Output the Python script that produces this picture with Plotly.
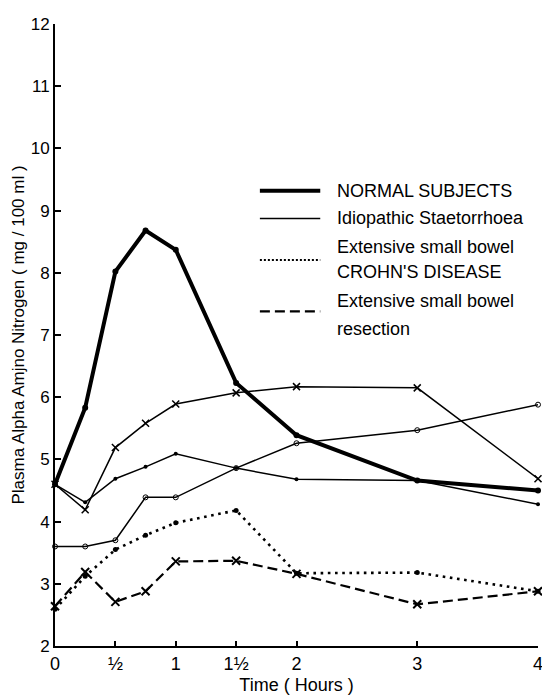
import plotly.graph_objects as go

# ---- data ----
time_h = [0, 0.25, 0.5, 0.75, 1, 1.5, 2, 3, 4]
normal = [4.6, 5.83, 8.02, 8.68, 8.37, 6.23, 5.39, 4.66, 4.5]
idio_a = [4.6, 4.19, 5.19, 5.58, 5.89, 6.07, 6.17, 6.15, 4.69]
idio_b = [4.6, 4.31, 4.69, 4.88, 5.09, 4.86, 4.68, 4.66, 4.28]
idio_c = [3.6, 3.6, 3.7, 4.39, 4.39, 4.86, 5.26, 5.47, 5.88]
crohn = [2.59, 3.12, 3.55, 3.78, 3.98, 4.18, 3.17, 3.18, 2.88]
resection = [2.64, 3.19, 2.71, 2.88, 3.36, 3.37, 3.16, 2.67, 2.88]

x_tickvals = [0, 0.5, 1, 1.5, 2, 3, 4]
x_ticktext = ["0", "½", "1", "1½", "2", "3", "4"]
y_tickvals = [2, 3, 4, 5, 6, 7, 8, 9, 10, 11, 12]

legend_labels = ["NORMAL SUBJECTS", "Idiopathic Staetorrhoea",
                 "Extensive small bowel", "CROHN'S DISEASE",
                 "Extensive small bowel", "resection"]

FONT = "Liberation Sans"
BLACK = "black"

# the page body has an 8px margin, so the figure is 542x691 and
# margins are measured from (8, 8) of the window
W, H = 542, 691
ML, MR, MT, MB = 47, 7, 8, 53

fig = go.Figure()

def add(y, width, dash, symbol, msize, mline=0, name=""):
    fig.add_trace(go.Scatter(
        x=time_h, y=y, mode="lines+markers", name=name,
        line=dict(color=BLACK, width=width, dash=dash),
        marker=dict(symbol=symbol, size=msize, color=BLACK,
                    line=dict(color=BLACK, width=mline)),
        cliponaxis=False, showlegend=False))

add(idio_a, 1.5, "solid", "x-thin", 7, 1.5, "Idiopathic Staetorrhoea")
add(idio_b, 1.5, "solid", "circle", 4, 0, "Idiopathic Staetorrhoea")
add(idio_c, 1.5, "solid", "circle-open", 5, 1, "Idiopathic Staetorrhoea")
add(crohn, 2.6, "2.6px,4.6px", "circle", 5, 0, "Extensive small bowel CROHN'S DISEASE")
add(resection, 2.2, "10px,5px", "x-thin", 8, 2, "Extensive small bowel resection")
add(normal, 4, "solid", "circle", 6, 0, "NORMAL SUBJECTS")

# ---- hand-drawn legend (paper coordinates), positions in window pixels ----
plot_w = W - ML - MR
plot_h = H - MT - MB

def py2paper(py):
    return ((H - MB + 8) - py) / plot_h

def px2paper(px):
    return (px - (ML + 8)) / plot_w

lx0, lx1 = px2paper(262), px2paper(323)
samples = [(185, 4, "solid"), (213, 1.5, "solid"), (255, 2, "2px,2px"), (307, 2.2, "10px,5px")]
for py, w, d in samples:
    fig.add_shape(type="line", xref="paper", yref="paper",
                  x0=lx0, x1=lx1, y0=py2paper(py), y1=py2paper(py),
                  line=dict(color=BLACK, width=w, dash=d))

text_rows = [185, 213, 242, 267, 297, 325]
for label, py in zip(legend_labels, text_rows):
    fig.add_annotation(xref="paper", yref="paper", x=px2paper(338), y=py2paper(py),
                       text=label, showarrow=False, xanchor="left", yanchor="middle",
                       font=dict(family=FONT, size=18, color=BLACK))

fig.update_layout(
    width=W, height=H,
    margin=dict(l=ML, r=MR, t=MT, b=MB),
    paper_bgcolor="white", plot_bgcolor="white",
    font=dict(family=FONT, color=BLACK),
    showlegend=False,
    xaxis=dict(range=[0, 4], tickvals=x_tickvals, ticktext=x_ticktext,
               ticks="inside", ticklen=5, tickwidth=2, tickcolor=BLACK,
               showline=True, linewidth=2, linecolor=BLACK,
               showgrid=False, zeroline=False, ticklabeloverflow="allow",
               tickfont=dict(size=18, family=FONT),
               title=dict(text="Time ( Hours )", font=dict(size=18, family=FONT), standoff=6)),
    yaxis=dict(range=[2, 12], tickvals=y_tickvals,
               ticks="inside", ticklen=6, tickwidth=2, tickcolor=BLACK,
               showline=True, linewidth=2, linecolor=BLACK,
               showgrid=False, zeroline=False, ticklabeloverflow="allow",
               tickfont=dict(size=17, family=FONT),
               title=dict(text="Plasma Alpha Amjno Nitrogen ( mg / 100 ml )",
                          font=dict(size=17, family=FONT), standoff=2)),
)

fig.write_html("out.html")
